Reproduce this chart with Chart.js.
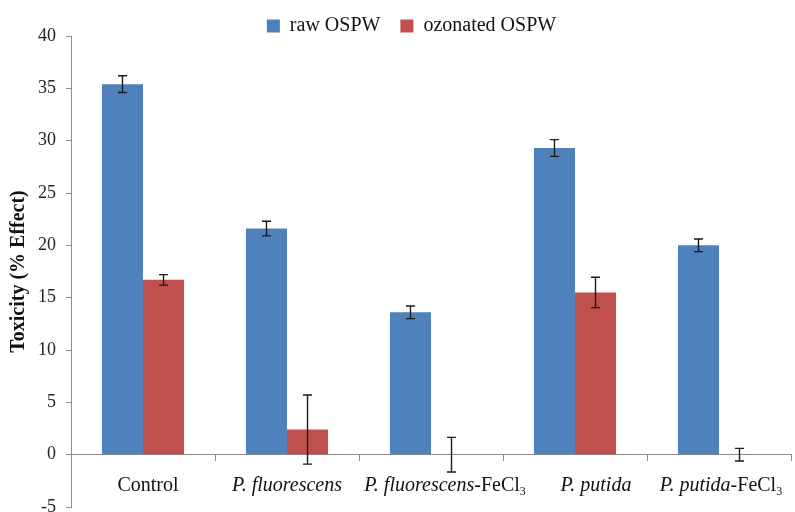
<!DOCTYPE html>
<html>
<head>
<meta charset="utf-8">
<script src="https://cdn.jsdelivr.net/npm/chart.js@4/dist/chart.umd.min.js"></script>
<style>
  html, body { margin: 0; padding: 0; background: #fff; }
  #wrap { width: 795px; height: 512px; position: relative; }
</style>
</head>
<body>
<div id="wrap"><canvas id="toxChart"></canvas></div>
<script>
// Data
const categories = ['Control', 'P. fluorescens', 'P. fluorescens-FeCl3', 'P. putida', 'P. putida-FeCl3'];
const rawValues = [35.4, 21.6, 13.6, 29.3, 20.0];
const rawErrors = [0.8, 0.7, 0.6, 0.8, 0.6];
const ozonatedValues = [16.7, 2.4, 0, 15.5, 0];
const ozonatedErrors = [0.5, 3.3, 1.65, 1.45, 0.6];
const yTicks = [-5, 0, 5, 10, 15, 20, 25, 30, 35, 40];

const serif = '"Liberation Serif", "Times New Roman", serif';
// the labels in the figure sit a little right of the category centres
const labelShift = [5, 0, 14, 21, 2];

// fixed legend height, legend nudged up and to the right like the figure
const legendTrim = {
    id: 'legendTrim',
    afterInit(chart) {
        const lg = chart.legend;
        if (!lg) return;
        const fit = lg.fit;
        lg.fit = function() {
            fit.call(this);
            this.height = 36;
        };
    },
    afterLayout(chart) {
        const lg = chart.legend;
        if (!lg) return;
        lg.top -= 4;
        lg.left += 16;
        lg.right += 16;
    }
};

// error bars drawn from the y scale
const errorBarPlugin = {
    id: 'errorBars',
    afterDatasetsDraw(chart) {
        const ctx = chart.ctx;
        const y = chart.scales.y;
        const errs = [rawErrors, ozonatedErrors];
        ctx.save();
        ctx.strokeStyle = '#1a1a1a';
        ctx.lineWidth = 1.4;
        chart.data.datasets.forEach(function(ds, di) {
            const meta = chart.getDatasetMeta(di);
            meta.data.forEach(function(bar, i) {
                const v = ds.data[i];
                const e = errs[di][i];
                const top = y.getPixelForValue(v + e);
                const bot = y.getPixelForValue(v - e);
                ctx.beginPath();
                ctx.moveTo(bar.x, top); ctx.lineTo(bar.x, bot);
                ctx.moveTo(bar.x - 4.5, top); ctx.lineTo(bar.x + 4.5, top);
                ctx.moveTo(bar.x - 4.5, bot); ctx.lineTo(bar.x + 4.5, bot);
                ctx.stroke();
            });
        });
        ctx.restore();
    }
};

// category labels with italic species names and subscript
const categoryLabelPlugin = {
    id: 'categoryLabels',
    afterDraw(chart) {
        const ctx = chart.ctx;
        const x = chart.scales.x;
        const yPix = chart.scales.y.getPixelForValue(0) + 36;
        const size = 20;
        ctx.save();
        ctx.fillStyle = '#111';
        ctx.textBaseline = 'alphabetic';
        categories.forEach(function(label, i) {
            const m = label.match(/^(P\. \w+)(-FeCl)?(3)?$/);
            let parts;
            if (m) {
                parts = [{ t: m[1], f: 'italic ' + size + 'px ' + serif, dy: 0 }];
                if (m[2]) parts.push({ t: m[2], f: size + 'px ' + serif, dy: 0 });
                if (m[3]) parts.push({ t: m[3], f: Math.round(size * 0.62) + 'px ' + serif, dy: 4 });
            } else {
                parts = [{ t: label, f: size + 'px ' + serif, dy: 0 }];
            }
            let w = 0;
            parts.forEach(function(p) { ctx.font = p.f; p.w = ctx.measureText(p.t).width; w += p.w; });
            let cx = x.getPixelForValue(i) + labelShift[i] - w / 2;
            parts.forEach(function(p) {
                ctx.font = p.f;
                ctx.fillText(p.t, cx, yPix + p.dy);
                cx += p.w;
            });
        });
        ctx.restore();
    }
};

document.addEventListener('DOMContentLoaded', function() {
    const ctx = document.getElementById('toxChart').getContext('2d');
    new Chart(ctx, {
        type: 'bar',
        data: {
            labels: categories,
            datasets: [{
                label: 'raw OSPW',
                data: rawValues,
                backgroundColor: '#4F81BD',
                categoryPercentage: 0.57,
                barPercentage: 1.0
            }, {
                label: 'ozonated OSPW',
                data: ozonatedValues,
                backgroundColor: '#C0504D',
                categoryPercentage: 0.57,
                barPercentage: 1.0
            }]
        },
        options: {
            responsive: true,
            maintainAspectRatio: false,
            animation: false,
            layout: { padding: { top: 0, right: 4, bottom: 5, left: 0 } },
            plugins: {
                legend: {
                    position: 'top',
                    labels: {
                        boxWidth: 13,
                        boxHeight: 13,
                        padding: 20,
                        color: '#111',
                        font: { family: serif, size: 20 }
                    }
                },
                tooltip: { enabled: false }
            },
            scales: {
                x: {
                    position: { y: 0 },
                    grid: { drawOnChartArea: false, offset: true, tickLength: 6, color: '#8c8c8c' },
                    border: { color: '#8c8c8c' },
                    ticks: { display: false }
                },
                y: {
                    min: yTicks[0],
                    max: yTicks[yTicks.length - 1],
                    afterBuildTicks(scale) {
                        scale.ticks = yTicks.map(function(v) { return { value: v }; });
                    },
                    afterFit(scale) {
                        scale.width = 71;
                        scale.paddingTop = 0;
                        scale.paddingBottom = 0;
                    },
                    grid: { drawOnChartArea: false, tickLength: 5, color: '#8c8c8c' },
                    border: { color: '#8c8c8c' },
                    ticks: { color: '#222', padding: 10, font: { family: serif, size: 18 } },
                    title: {
                        display: true,
                        text: 'Toxicity (% Effect)',
                        color: '#111',
                        padding: { top: 7, bottom: 4 },
                        font: { family: serif, size: 20, weight: 'bold' }
                    }
                }
            }
        },
        plugins: [legendTrim, errorBarPlugin, categoryLabelPlugin]
    });
});
</script>
</body>
</html>
